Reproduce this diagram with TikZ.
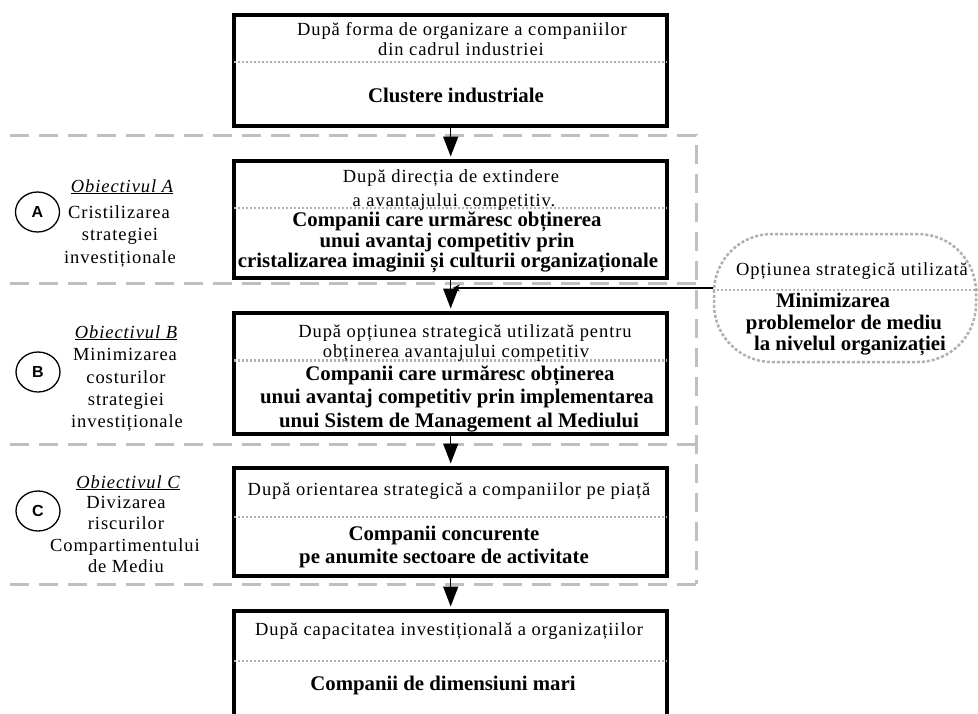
\documentclass[tikz,border=0pt]{standalone}
\usepackage{fontspec}
\setmainfont{Liberation Serif}
\newfontfamily\lsfont[LetterSpace=5]{Liberation Serif}
\newfontfamily\arialfont{Liberation Sans}
\usetikzlibrary{arrows.meta,shapes.geometric}
\definecolor{regiongray}{HTML}{BFBFBF}
\definecolor{dotgray}{HTML}{B0B0B0}
\tikzset{
  box/.style={draw, line width=4pt, fill=white, minimum width=433.5pt, inner sep=0pt},
  divider/.style={draw=dotgray, line width=2.5pt, dash pattern=on 2.5pt off 1.5pt},
  region/.style={draw=regiongray, line width=3pt, dash pattern=on 19pt off 10pt},
  flowarrow/.style={line width=1.5pt, -{Triangle[length=20pt,width=15pt]}, shorten >=2pt},
  sidearrow/.style={line width=1.5pt, -{Stealth[length=7pt,width=7pt]}, shorten >=2pt},
  rtxt/.style={font=\lsfont\fontsize{18.5}{20}\selectfont, anchor=base, inner sep=0pt},
  btxt/.style={font=\bfseries\fontsize{20.8}{22}\selectfont, anchor=base, inner sep=0pt},
  circ/.style={draw, ellipse, line width=1.3pt, minimum width=44pt, minimum height=40pt, inner sep=0pt, font=\arialfont\bfseries\fontsize{16}{16}\selectfont},
  optbox/.style={draw=dotgray, line width=2.5pt, dash pattern=on 3pt off 2pt, rounded corners=58pt, fill=white, minimum width=262pt, minimum height=128pt, inner sep=0pt},
}
\begin{document}
\begin{tikzpicture}[x=1pt,y=-1pt]
\useasboundingbox (0,0) rectangle (978,713);
\clip (0,0) rectangle (978,713);
% dashed region
\draw[region] (10,135) -- (696,135) -- (696,584);
\draw[region] (10,283) -- (696,283);
\draw[region] (10,444) -- (696,444);
\draw[region] (10,584) -- (696,584);

% boxes
\node[box, minimum height=110.5pt] (b1) at (450.7,70.25) {};
\node[box, minimum height=117pt] (b2) at (450.7,219) {};
\node[box, minimum height=121.5pt] (b3) at (450.7,373.25) {};
\node[box, minimum height=108pt] (b4) at (450.7,521.5) {};
\node[box, minimum height=150pt] (b5) at (450.7,685.5) {};

% dividers
\draw[divider] ([xshift=2pt]b1.west |- 0,62) -- ([xshift=-2pt]b1.east |- 0,62);
\draw[divider] ([xshift=2pt]b2.west |- 0,208) -- ([xshift=-2pt]b2.east |- 0,208);
\draw[divider] ([xshift=2pt]b3.west |- 0,360.5) -- ([xshift=-2pt]b3.east |- 0,360.5);
\draw[divider] ([xshift=2pt]b4.west |- 0,517) -- ([xshift=-2pt]b4.east |- 0,517);
\draw[divider] ([xshift=2pt]b5.west |- 0,661) -- ([xshift=-2pt]b5.east |- 0,661);

% box 1 text
\node[rtxt] (t1a) at (462,35) {După forma de organizare a companiilor};
\node[rtxt] (t1b) at (461,55) {din cadrul industriei};
\node[btxt] (t1c) at (456,102) {Clustere industriale};
% box 2 text
\node[rtxt] (t2a) at (451,182) {După direcția de extindere};
\node[rtxt] (t2b) at (454,206) {a avantajului competitiv.};
\node[btxt] (t2c) at (447,226) {Companii care urmăresc obținerea};
\node[btxt] (t2d) at (447,247) {unui avantaj competitiv prin};
\node[btxt] (t2e) at (448,267.5) {cristalizarea imaginii și culturii organizaționale};
% box 3 text
\node[rtxt] (t3a) at (465,337) {După opțiunea strategică utilizată pentru};
\node[rtxt] (t3b) at (456,357) {obținerea avantajului competitiv};
\node[btxt] (t3c) at (460,380) {Companii care urmăresc obținerea};
\node[btxt] (t3d) at (457,403.5) {unui avantaj competitiv prin implementarea};
\node[btxt] (t3e) at (459,427) {unui Sistem de Management al Mediului};
% box 4 text
\node[rtxt] (t4a) at (449,495) {După orientarea strategică a companiilor pe piață};
\node[btxt] (t4b) at (444,540) {Companii concurente};
\node[btxt] (t4c) at (444,563) {pe anumite sectoare de activitate};
% box 5 text
\node[rtxt] (t5a) at (449,635) {După capacitatea investițională a organizațiilor};
\node[btxt] (t5b) at (443,690) {Companii de dimensiuni mari};

% option stadium
\node[optbox] (opt) at (845,298) {};
\draw[divider] (opt.west |- 0,290) -- (opt.east |- 0,290);
\node[rtxt] (toa) at (852,275) {Opțiunea strategică utilizată};
\node[btxt] (tob) at (833,307) {Minimizarea};
\node[btxt] (toc) at (844,329) {problemelor de mediu};
\node[btxt] (tod) at (850,350) {la nivelul organizației};

% connectors
\draw[flowarrow] (b1.south) -- (b2.north);
\draw[flowarrow] (b2.south) -- (b3.north);
\draw[flowarrow] (b3.south) -- (b4.north);
\draw[flowarrow] (b4.south) -- (b5.north);
\coordinate (j) at (450.7,288);
\draw[sidearrow] (opt.west |- j) -- (j);

% objectives
\node[circ] (ca) at (37.5,212) {A};
\node[circ] (cb) at (38,372) {B};
\node[circ] (cc) at (38,511) {C};

\node[rtxt] (oa1) at (122,192) {\itshape\underline{Obiectivul A}};
\node[rtxt] (oa2) at (119,218) {Cristilizarea};
\node[rtxt] (oa3) at (120,240) {strategiei};
\node[rtxt] (oa4) at (120,263) {investiționale};

\node[rtxt] (ob1) at (126,338) {\itshape\underline{Obiectivul B}};
\node[rtxt] (ob2) at (125,360) {Minimizarea};
\node[rtxt] (ob3) at (126,383) {costurilor};
\node[rtxt] (ob4) at (126,405) {strategiei};
\node[rtxt] (ob5) at (127,427) {investiționale};

\node[rtxt] (oc1) at (128,488) {\itshape\underline{Obiectivul C}};
\node[rtxt] (oc2) at (126,508) {Divizarea};
\node[rtxt] (oc3) at (126,529) {riscurilor};
\node[rtxt] (oc4) at (125,551) {Compartimentului};
\node[rtxt] (oc5) at (126,572) {de Mediu};
\end{tikzpicture}
\end{document}
